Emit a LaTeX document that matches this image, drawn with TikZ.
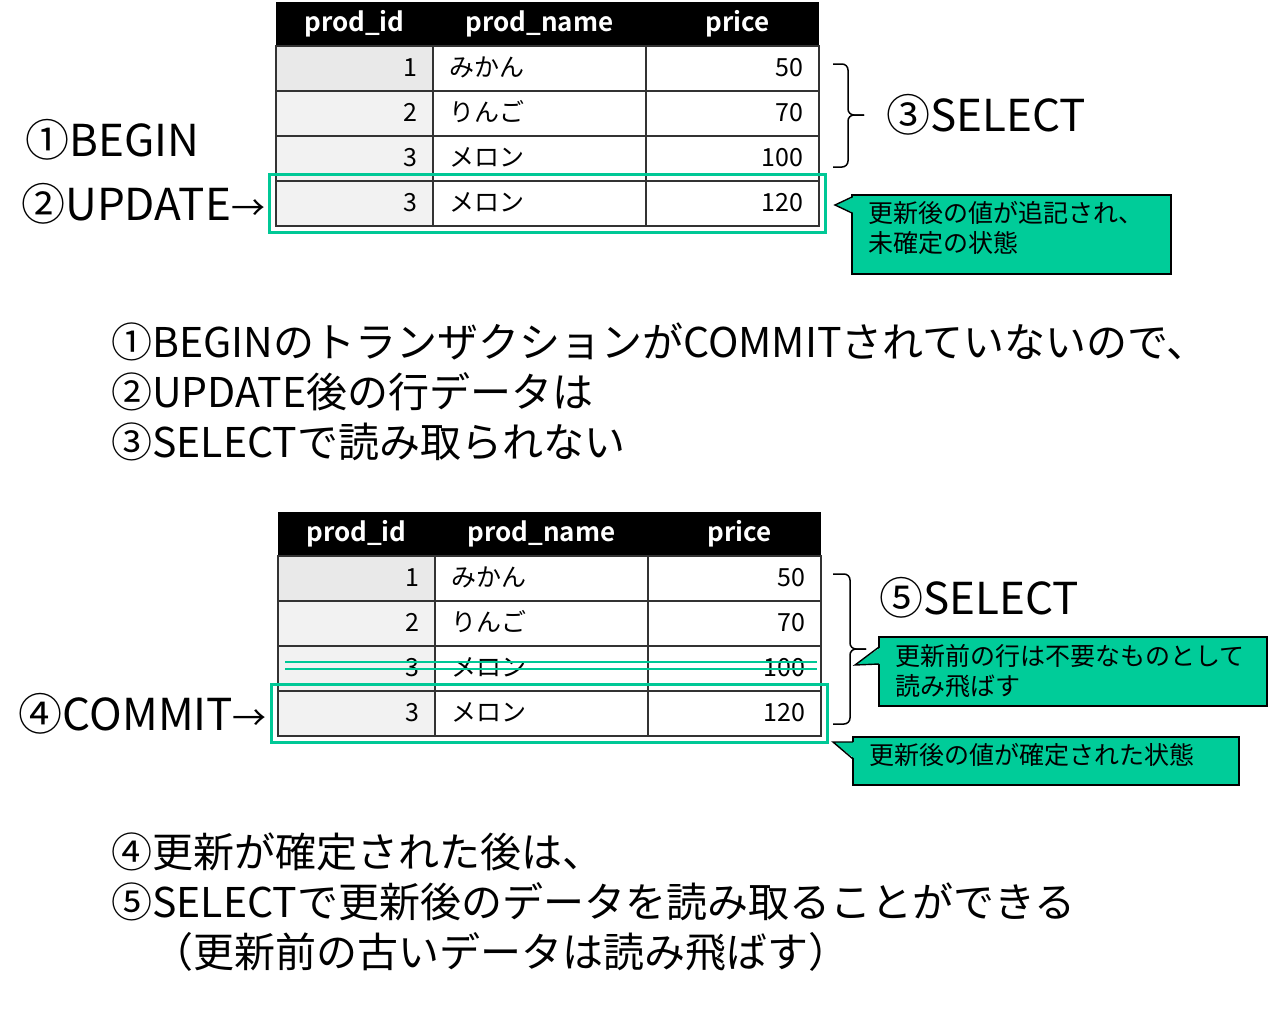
\documentclass[tikz,border=0pt]{standalone}
\usepackage{fontspec}
\setmainfont{Noto Sans CJK JP}[BoldFont={Noto Sans CJK JP Bold}]
\usetikzlibrary{positioning,fit}
\definecolor{notegreen}{RGB}{0,204,153}
\definecolor{markgreen}{RGB}{0,200,150}
\definecolor{idgray}{RGB}{242,242,242}
\definecolor{idgrayb}{RGB}{233,233,233}
\newcommand{\smallarrow}{{\fontsize{34}{34}\selectfont →}}
\tikzset{hdr/.style={rectangle,fill=black,text=white,font=\bfseries\fontsize{26}{26}\selectfont,minimum height=44pt,inner sep=0pt,outer sep=0pt}}
\tikzset{cell/.style={rectangle,draw=black!80,line width=1.2pt,font=\fontsize{25}{25}\selectfont,minimum height=45pt,inner ysep=0pt,inner xsep=16pt,outer sep=0pt,text height=19pt,text depth=4pt}}
\tikzset{idcell/.style={cell,fill=idgray,text width=125pt,align=right}}
\tikzset{namecell/.style={cell,fill=white,text width=181pt,align=left}}
\tikzset{pricecell/.style={cell,fill=white,text width=141pt,align=right}}
\tikzset{markbox/.style={draw=markgreen,line width=2.6pt,inner sep=6.5pt}}
\tikzset{strike/.style={draw=markgreen,line width=2.2pt}}
\tikzset{bracket/.style={draw=black,line width=1.5pt,rounded corners=6pt}}
\tikzset{bigtext/.style={font=\fontsize{44}{50}\selectfont,inner sep=0pt}}
\tikzset{bodytext/.style={font=\fontsize{41}{50}\selectfont,inner sep=0pt,anchor=north west,align=left}}
\tikzset{note/.style={rectangle,draw=black,line width=1.4pt,fill=notegreen,font=\fontsize{25}{30}\selectfont,align=left,anchor=north west,inner xsep=16pt,inner ysep=0pt,outer sep=0pt}}
\tikzset{wedge/.style={draw=black,line width=1.4pt}}

\begin{document}
\begin{tikzpicture}[x=1pt,y=-1pt]
\useasboundingbox (0,0) rectangle (1275,1009);
\begin{scope}[node distance=0pt]
	% table before commit
	\node (tophid) [hdr, minimum width=157pt, anchor=north west] at (276,2) {prod\_id};
	\node (tophname) [hdr, minimum width=213pt, right=of tophid] {prod\_name};
	\node (tophprice) [hdr, minimum width=173pt, right=of tophname] {\hspace{10pt}price};
	\node (topid1) [idcell, fill=idgrayb, below=of tophid] {1}; \node (topname1) [namecell, right=of topid1] {みかん}; \node (topprice1) [pricecell, right=of topname1] {50};
	\node (topid2) [idcell, below=of topid1] {2}; \node (topname2) [namecell, right=of topid2] {りんご}; \node (topprice2) [pricecell, right=of topname2] {70};
	\node (topid3) [idcell, below=of topid2] {3}; \node (topname3) [namecell, right=of topid3] {メロン}; \node (topprice3) [pricecell, right=of topname3] {100};
	\node (topid4) [idcell, below=of topid3] {3}; \node (topname4) [namecell, right=of topid4] {メロン}; \node (topprice4) [pricecell, right=of topname4] {120};
	\node (updbox) [markbox, fit=(topid4)(topprice4)] {};

	% table after commit
	\node (bothid) [hdr, minimum width=157pt, anchor=north west] at (278,512) {prod\_id};
	\node (bothname) [hdr, minimum width=213pt, right=of bothid] {prod\_name};
	\node (bothprice) [hdr, minimum width=173pt, right=of bothname] {\hspace{10pt}price};
	\node (botid1) [idcell, fill=idgrayb, below=of bothid] {1}; \node (botname1) [namecell, right=of botid1] {みかん}; \node (botprice1) [pricecell, right=of botname1] {50};
	\node (botid2) [idcell, below=of botid1] {2}; \node (botname2) [namecell, right=of botid2] {りんご}; \node (botprice2) [pricecell, right=of botname2] {70};
	\node (botid3) [idcell, below=of botid2] {3}; \node (botname3) [namecell, right=of botid3] {メロン}; \node (botprice3) [pricecell, right=of botname3] {100};
	\node (botid4) [idcell, below=of botid3] {3}; \node (botname4) [namecell, right=of botid4] {メロン}; \node (botprice4) [pricecell, right=of botname4] {120};
	\node (cmtbox) [markbox, fit=(botid4)(botprice4)] {};
	\draw[strike] ([xshift=7pt,yshift=6.5pt]botid3.west) -- ([xshift=-4pt,yshift=6.5pt]botprice3.east);
	\draw[strike] ([xshift=7pt,yshift=-0.5pt]botid3.west) -- ([xshift=-4pt,yshift=-0.5pt]botprice3.east);
\end{scope}

% labels on the left
\node (begin) [bigtext, anchor=west] at (25,140) {①BEGIN};
\node (update) [bigtext, left=3pt of updbox] {②UPDATE\smallarrow};
\node (commit) [bigtext, left=3pt of cmtbox] {④COMMIT\smallarrow};

% braces and selects
\coordinate (seltip1) at (864,115);
\draw[bracket] (833,64) -- (848,64) -- (848,115) -- (seltip1);
\draw[bracket] (seltip1) -- (848,115) -- (848,167) -- (833,167);
\node (select1) [bigtext, anchor=west, right=22pt of seltip1] {③SELECT};
\coordinate (seltip2) at (866,649);
\draw[bracket] (833,574) -- (850,574) -- (850,649) -- (seltip2);
\draw[bracket] (seltip2) -- (850,649) -- (850,724) -- (833,724);
\node (select2) [bigtext, anchor=west] at (879,598) {⑤SELECT};

% callouts
\node (note1) [note, text width=287pt, minimum height=79pt, text depth=45pt] at (852,195) {更新後の値が追記され、\\未確定の状態};
\coordinate (tip1) at (835,205);
\fill[notegreen] ([xshift=2pt,yshift=-2pt]note1.north west) -- (tip1) -- ([xshift=2pt,yshift=-18pt]note1.north west) -- cycle;
\draw[wedge] ([yshift=-2pt]note1.north west) -- (tip1) -- ([yshift=-18pt]note1.north west);
\node (note2) [note, text width=356pt, minimum height=69pt] at (879,637) {更新前の行は不要なものとして\\読み飛ばす};
\coordinate (tip2) at (855,665);
\fill[notegreen] ([xshift=2pt,yshift=-10pt]note2.north west) -- (tip2) -- ([xshift=2pt,yshift=-27pt]note2.north west) -- cycle;
\draw[wedge] ([yshift=-10pt]note2.north west) -- (tip2) -- ([yshift=-27pt]note2.north west);
\node (note3) [note, text width=354pt, minimum height=48pt, text depth=15pt] at (853,737) {更新後の値が確定された状態};
\coordinate (tip3) at (833,742);
\fill[notegreen] ([xshift=2pt,yshift=-5pt]note3.north west) -- (tip3) -- ([xshift=2pt,yshift=-22pt]note3.north west) -- cycle;
\draw[wedge] ([yshift=-5pt]note3.north west) -- (tip3) -- ([yshift=-22pt]note3.north west);

% explanations
\node (explain1) [bodytext] at (111,323) {①BEGINのトランザクションがCOMMITされていないので、\\②UPDATE後の行データは\\③SELECTで読み取られない};
\node (explain2) [bodytext] at (111,833) {④更新が確定された後は、\\⑤SELECTで更新後のデータを読み取ることができる\\　（更新前の古いデータは読み飛ばす）};
\end{tikzpicture}
\end{document}
